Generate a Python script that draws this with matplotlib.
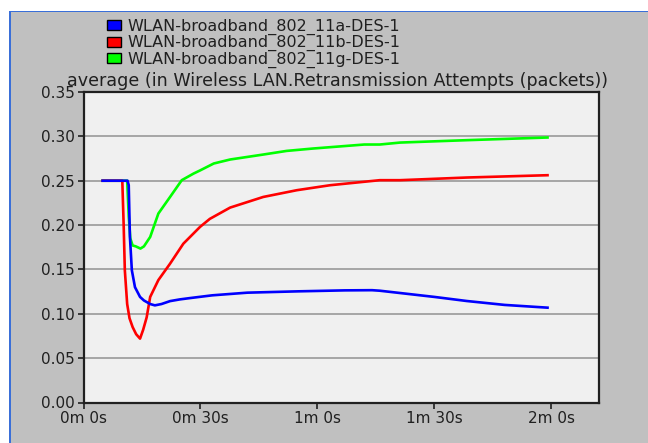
import matplotlib
matplotlib.use("Agg")
import matplotlib.pyplot as plt
from matplotlib.patches import Rectangle, Patch

plt.rcParams["font.family"] = ["DejaVu Sans"]

# seconds / packets
t_a = [4.9, 11.3, 11.6, 11.9, 12.4, 13.2, 14.5, 15.5, 17.1, 18.3, 20.0, 22.2, 24.7,
       27.3, 33.0, 42.0, 55.0, 67.0, 74.0, 76.0, 81.0, 90.0, 98.3, 108.0, 119.0]
v_a = [0.250, 0.250, 0.245, 0.187, 0.149, 0.130, 0.119, 0.115, 0.111, 0.1095, 0.111,
       0.1143, 0.1162, 0.1177, 0.1208, 0.1238, 0.1253, 0.1264, 0.1266, 0.126, 0.1235,
       0.119, 0.1144, 0.110, 0.1069]

t_b = [4.9, 9.95, 10.3, 10.6, 11.2, 11.8, 12.6, 13.5, 14.5, 15.3, 16.2, 17.1, 19.2,
       22.2, 25.6, 29.9, 32.4, 37.6, 46.1, 54.7, 63.2, 76.0, 81.2, 98.3, 119.0]
v_b = [0.250, 0.250, 0.200, 0.149, 0.111, 0.095, 0.085, 0.077, 0.072, 0.082, 0.096,
       0.119, 0.138, 0.1565, 0.179, 0.198, 0.207, 0.2197, 0.2317, 0.2393, 0.2449,
       0.2506, 0.2506, 0.2536, 0.2562]

t_g = [4.9, 11.2, 11.6, 12.0, 12.6, 13.4, 14.6, 15.5, 17.1, 19.2, 22.2, 25.2, 28.2,
       29.9, 33.4, 37.6, 46.1, 52.1, 58.9, 72.0, 76.0, 81.2, 98.3, 119.0]
v_g = [0.250, 0.250, 0.210, 0.185, 0.177, 0.176, 0.1735, 0.176, 0.1866, 0.213, 0.2317,
       0.2506, 0.258, 0.2616, 0.2694, 0.2739, 0.2795, 0.2836, 0.2863, 0.2908, 0.2908,
       0.293, 0.2957, 0.2987]

names = ["WLAN-broadband_802_11a-DES-1", "WLAN-broadband_802_11b-DES-1",
         "WLAN-broadband_802_11g-DES-1"]
colors = ["#0000ff", "#ff0000", "#00ff00"]
xticks = [0, 30, 60, 90, 120]
xlabels = ["0m 0s", "0m 30s", "1m 0s", "1m 30s", "2m 0s"]
yticks = [0.00, 0.05, 0.10, 0.15, 0.20, 0.25, 0.30, 0.35]

W, H = 648, 443
fig = plt.figure(figsize=(W / 100, H / 100), dpi=100, facecolor="white")

# window frame: gray panel with blue border on left/top
fig.patches.append(Rectangle((9 / W, 0), 1 - 9 / W, 1 - 11 / H, transform=fig.transFigure,
                             facecolor="#c0c0c0", edgecolor="none", zorder=-2))
fig.patches.append(Rectangle((9 / W, 0), 2 / W, 1 - 11 / H, transform=fig.transFigure,
                             facecolor="#3a6fd8", edgecolor="none", zorder=-1))
fig.patches.append(Rectangle((9 / W, 1 - 12 / H), 1 - 9 / W, 1.5 / H, transform=fig.transFigure,
                             facecolor="#3a6fd8", edgecolor="none", zorder=-1))

ax = fig.add_axes([83.5 / W, (H - 402.5) / H, (599 - 83.5) / W, 310.5 / H])
ax.set_facecolor("#f0f0f0")

for y in yticks[1:-1]:
    ax.axhline(y, color="#a0a0a0", lw=1.3, zorder=1)

ax.plot(t_g, v_g, color=colors[2], lw=1.9, zorder=3)
ax.plot(t_b, v_b, color=colors[1], lw=1.9, zorder=4)
ax.plot(t_a, v_a, color=colors[0], lw=1.9, zorder=5)

ax.set_xlim(0, 132.2)
ax.set_ylim(0, 0.35)
ax.set_xticks(xticks)
ax.set_xticklabels(xlabels)
ax.set_yticks(yticks)
ax.set_yticklabels(["%.2f" % v for v in yticks])
ax.tick_params(labelsize=11, colors="#202020", length=4, width=1.2, pad=2)
for s in ax.spines.values():
    s.set_color("#202020")
    s.set_linewidth(1.6)

fig.text(67 / W, 1 - 81 / H, "average (in Wireless LAN.Retransmission Attempts (packets))",
         fontsize=12.6, ha="left", va="center", color="#202020")

handles = [Patch(facecolor=c, edgecolor="black", linewidth=1) for c in colors]
fig.legend(handles, names, loc="upper left", bbox_to_anchor=(107 / W, 1 - 19 / H),
           frameon=False, fontsize=11.5, handlelength=0.9, handleheight=0.6,
           handletextpad=0.4, labelspacing=0.0, borderpad=0, borderaxespad=0,
           labelcolor="#202020")

fig.savefig("out.png", dpi=100, facecolor=fig.get_facecolor())
